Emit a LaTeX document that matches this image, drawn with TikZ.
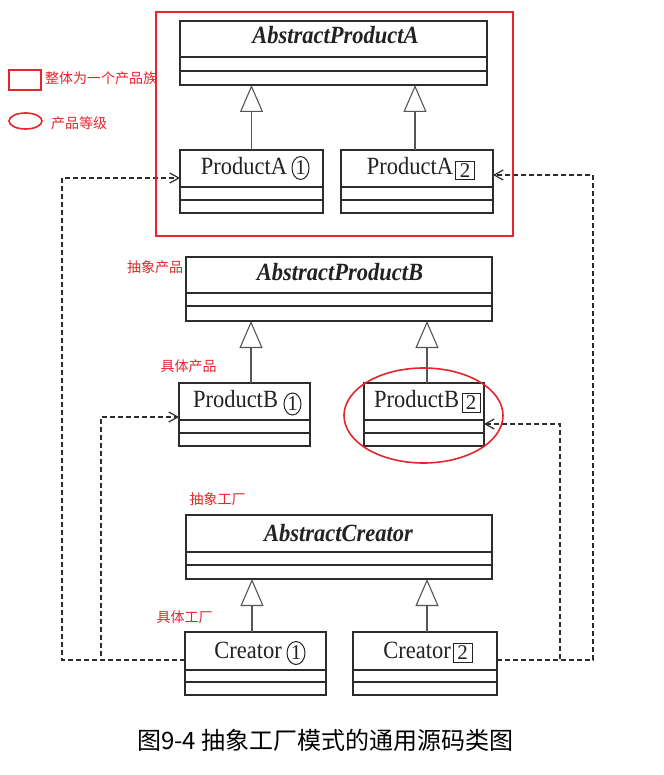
\documentclass[tikz,border=0pt]{standalone}
\usepackage{fontspec}
\usepackage{graphicx}
\setmainfont{Liberation Serif}
\newfontfamily\cjk{Noto Sans CJK SC}
\usetikzlibrary{arrows.meta,shapes.geometric}
\definecolor{ln}{HTML}{2C2C2C}
\definecolor{txt}{HTML}{222222}
\definecolor{rd}{HTML}{E8232B}
\tikzset{
 cls/.style={draw=ln, line width=1.4pt, rectangle, inner sep=0pt, outer sep=0pt},
 divider/.style={draw=ln, line width=1.3pt},
 clsname/.style={font=\fontsize{22.5}{24}\selectfont, text=txt, inner sep=0pt, anchor=base},
 absname/.style={clsname, font=\fontsize{22.5}{24}\selectfont\bfseries\itshape},
 ovalmark/.style={draw=txt, line width=1pt, ellipse, inner sep=0pt, font=\fontsize{21}{22}\selectfont, text=txt},
 boxmark/.style={draw=txt, line width=1pt, rectangle, inner sep=0pt, font=\fontsize{21}{22}\selectfont, text=txt},
 inh/.style={draw=ln!80, line width=1.2pt, -{Triangle[open, length=27pt, width=23pt, line width=1.1pt]}},
 dep/.style={draw=ln, line width=1.3pt, dash pattern=on 5pt off 3pt, -{Straight Barb[length=9pt, width=10pt, line width=1.2pt]}},
 redframe/.style={draw=rd, line width=2pt},
 redoval/.style={draw=rd, line width=1.6pt},
 redlabel/.style={text=rd, font=\cjk\fontsize{14}{16}\selectfont, inner sep=0pt},
 captext/.style={text=black, font=\cjk\fontsize{24}{26}\selectfont, inner sep=0pt},
}
\newcommand\umlbox[7]{%
 \node[cls, minimum width={(#4-#2)*1pt}, minimum height={(#5-#3)*1pt}, anchor=north west] (#1) at (#2,#3) {};
 \draw[divider] (#1.west |- 0,#6) -- (#1.east |- 0,#6);
 \draw[divider] (#1.west |- 0,#7) -- (#1.east |- 0,#7);
}
\newcommand\tall[1]{\scalebox{1}[1.1]{#1}}
\begin{document}
\begin{tikzpicture}[x=1pt,y=-1pt]
\useasboundingbox (0,0) rectangle (663,775);
\fill[white] (0,0) rectangle (663,775);

% classes
\umlbox{APA}{180}{21}{487}{85}{57}{71}
\umlbox{PA1}{180}{150}{323}{213}{187}{200}
\umlbox{PA2}{341}{150}{493}{213}{187}{200}
\umlbox{APB}{186}{257}{492}{321}{293}{306}
\umlbox{PB1}{179}{383}{310}{446}{420}{433}
\umlbox{PB2}{364}{383}{484}{446}{420}{433}
\umlbox{AC}{186}{515}{492}{579}{552}{565}
\umlbox{C1}{185}{632}{326}{695}{670}{682}
\umlbox{C2}{353}{632}{497}{695}{670}{682}

% class names
\node[absname] (APAt) at (335.5,44) {\tall{AbstractProductA}};
\node[clsname] (PA1t) at (244,175) {\tall{ProductA}};
\node[ovalmark, minimum width=17pt, minimum height=23pt] (PA1m) at (300.5,168) {1};
\node[clsname] (PA2t) at (410,175) {\tall{ProductA}};
\node[boxmark, minimum width=19pt, minimum height=18pt] (PA2m) at (465,170.5) {2};
\node[absname] (APBt) at (340,280.5) {\tall{AbstractProductB}};
\node[clsname] (PB1t) at (235.5,407.5) {\tall{ProductB}};
\node[ovalmark, minimum width=17pt, minimum height=22pt] (PB1m) at (292.5,404) {1};
\node[clsname] (PB2t) at (416.5,407.5) {\tall{ProductB}};
\node[boxmark, minimum width=18pt, minimum height=19pt] (PB2m) at (471,402.5) {2};
\node[absname] (ACt) at (338.5,541.5) {\tall{AbstractCreator}};
\node[clsname] (C1t) at (248,658) {\tall{Creator}};
\node[ovalmark, minimum width=18pt, minimum height=23pt] (C1m) at (296,653) {1};
\node[clsname] (C2t) at (417,658) {\tall{Creator}};
\node[boxmark, minimum width=19pt, minimum height=19pt] (C2m) at (462.5,652.5) {2};

% inheritance
\draw[inh] (PA1.north) -- (PA1.north |- APA.south);
\draw[inh] ([xshift=-2pt]PA2.north) -- ([xshift=-2pt]PA2.north |- APA.south);
\draw[inh] ([xshift=6.5pt]PB1.north) -- ([xshift=6.5pt]PB1.north |- APB.south);
\draw[inh] ([xshift=3pt]PB2.north) -- ([xshift=3pt]PB2.north |- APB.south);
\draw[inh] ([xshift=-3.5pt]C1.north) -- ([xshift=-3.5pt]C1.north |- AC.south);
\draw[inh] ([xshift=2pt]C2.north) -- ([xshift=2pt]C2.north |- AC.south);

% dependencies
\draw[dep] ([yshift=3.5pt]C1.west) -| (62,178) -- ([yshift=3.5pt]PA1.west);
\draw[dep] ([yshift=3.5pt]C1.west) -| (101,417) -- ([yshift=-2.5pt]PB1.west);
\draw[dep] ([yshift=3.5pt]C2.east) -| (593,175) -- ([yshift=6.5pt]PA2.east);
\draw[dep] ([yshift=3.5pt]C2.east) -| (560,424) -- ([yshift=-9.5pt]PB2.east);

% red annotations
\draw[redframe] (156,12) rectangle (513,236);
\draw[redoval] (423.5,415.5) ellipse [x radius=79.5pt, y radius=47.5pt];
\draw[redframe] (9,70) rectangle (41,90);
\draw[redoval] (25.5,121) ellipse [x radius=16.5pt, y radius=8pt];
\node[redlabel, anchor=west] (lg1) at (45,78) {整体为一个产品族};
\node[redlabel, anchor=west] (lg2) at (51,123) {产品等级};
\node[redlabel] (lbl1) at (155,267) {抽象产品};
\node[redlabel] (lbl2) at (188.5,366.5) {具体产品};
\node[redlabel] (lbl3) at (217.5,499.5) {抽象工厂};
\node[redlabel] (lbl4) at (184.5,617.3) {具体工厂};

% caption
\node[captext] (cap) at (325.5,740) {图9-4 抽象工厂模式的通用源码类图};
\end{tikzpicture}
\end{document}
